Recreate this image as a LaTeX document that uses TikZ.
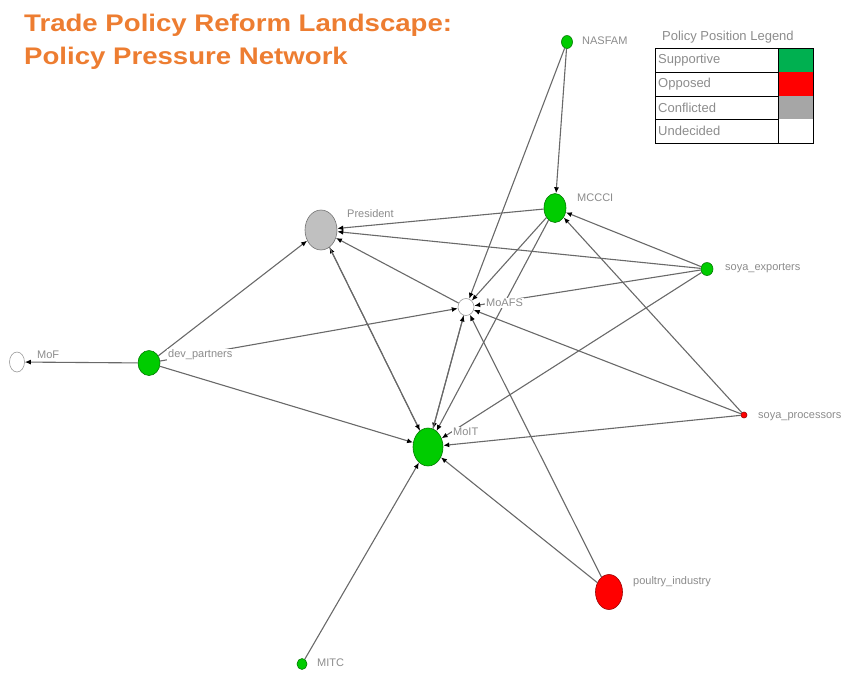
\documentclass[tikz,border=0pt]{standalone}
\usepackage{fontspec}
\setmainfont{Liberation Sans}
\usepackage{graphicx}
\usepackage{tikz}
\usetikzlibrary{positioning, shapes.geometric, arrows.meta}

\definecolor{titleorange}{RGB}{237,125,49}
\definecolor{actgreen}{RGB}{0,204,0}
\definecolor{actred}{RGB}{255,0,0}
\definecolor{actgray}{RGB}{192,192,192}
\definecolor{leggreen}{RGB}{0,176,80}
\definecolor{leggray}{RGB}{166,166,166}
\definecolor{txtgray}{RGB}{140,140,140}
\definecolor{linkgray}{RGB}{105,105,105}

\begin{document}
\begin{tikzpicture}[x=1pt, y=-1pt,
    actor/.style={ellipse, line width=0.6pt, inner sep=0pt},
    tag/.style={fill=white, text=txtgray, font=\fontsize{11}{13}\selectfont, inner sep=1pt, anchor=west},
    link/.style={draw=linkgray, line width=1.1pt, -{Latex[length=6pt, width=5pt, color=black]}},
    headline/.style={anchor=base west, text=titleorange, font=\fontsize{24}{28}\bfseries\selectfont, inner sep=0pt},
    legtxt/.style={text=txtgray, font=\fontsize{13}{15}\selectfont, anchor=west, inner sep=0pt}]

  \useasboundingbox (0,0) rectangle (847,673);

  % Title
  \node[headline] (title1) at (24,31) {\scalebox{1.15}[1]{Trade Policy Reform Landscape:}};
  \node[headline] (title2) at (24,64) {\scalebox{1.15}[1]{Policy Pressure Network}};

  % Nodes
  \foreach \n/\x/\y/\w/\h/\c in {NASFAM/567/42/11/13/actgreen, MCCCI/555/208/22/29/actgreen,
      President/321/230/32/40/actgray, soyaexp/707/269/12/13/actgreen, MoAFS/466/307/16/17/white,
      MoF/17/362/15/20/white, devpart/149/363/22/25/actgreen, soyaproc/744/415/6/6/actred,
      MoIT/428/447/30/38/actgreen, poultry/609/592/27/35/actred, MITC/302/664/10/11/actgreen}
  \node[actor, fill=\c, draw=\c!60!black, minimum width=\w, minimum height=\h] (\n) at (\x,\y) {};

  % Arrows
  \foreach \a/\b in {NASFAM/MCCCI, NASFAM/MoAFS, MCCCI/President, MCCCI/MoAFS, MCCCI/MoIT,
      soyaexp/President, soyaexp/MCCCI, soyaexp/MoAFS, soyaexp/MoIT,
      soyaproc/MCCCI, soyaproc/MoAFS, soyaproc/MoIT,
      MoAFS/President, MoAFS/MoIT, MoIT/MoAFS, MoIT/President, President/MoIT,
      devpart/President, devpart/MoAFS, devpart/MoIT, devpart/MoF,
      MITC/MoIT, poultry/MoAFS, poultry/MoIT}
  \draw[link] (\a) -- (\b);

  % Labels
  \foreach \n/\x/\y/\t in {NASFAM/581/41/NASFAM, MCCCI/576/198/MCCCI, President/346/214/President,
      soyaexp/724/268/soya\_exporters, MoAFS/485/303/MoAFS, MoF/36/355/MoF,
      devpart/167/355/dev\_partners, soyaproc/757/417/soya\_processors, MoIT/452/432/MoIT,
      poultry/632/582/poultry\_industry, MITC/316/663/MITC}
  \node[tag] (\n-tag) at (\x,\y) {\t};

  % Legend
  \node[legtxt] (legtitle) at (662,37) {Policy Position Legend};
  \foreach \t/\c/\top/\bot in {Supportive/leggreen/48/72, Opposed/actred/72/96,
      Conflicted/leggray/96/119, Undecided/white/119/143}
  {
    \fill[\c] (778,\top) rectangle (813,\bot);
    \node[legtxt] (leg-\t) at (658,{(\top+\bot)/2}) {\t};
    \draw[line width=1pt] (655,\bot) -- (813,\bot);
  }
  \draw[line width=1pt] (655,48) rectangle (813,143);
  \draw[line width=1pt] (778,48) -- (778,143);
\end{tikzpicture}
\end{document}
